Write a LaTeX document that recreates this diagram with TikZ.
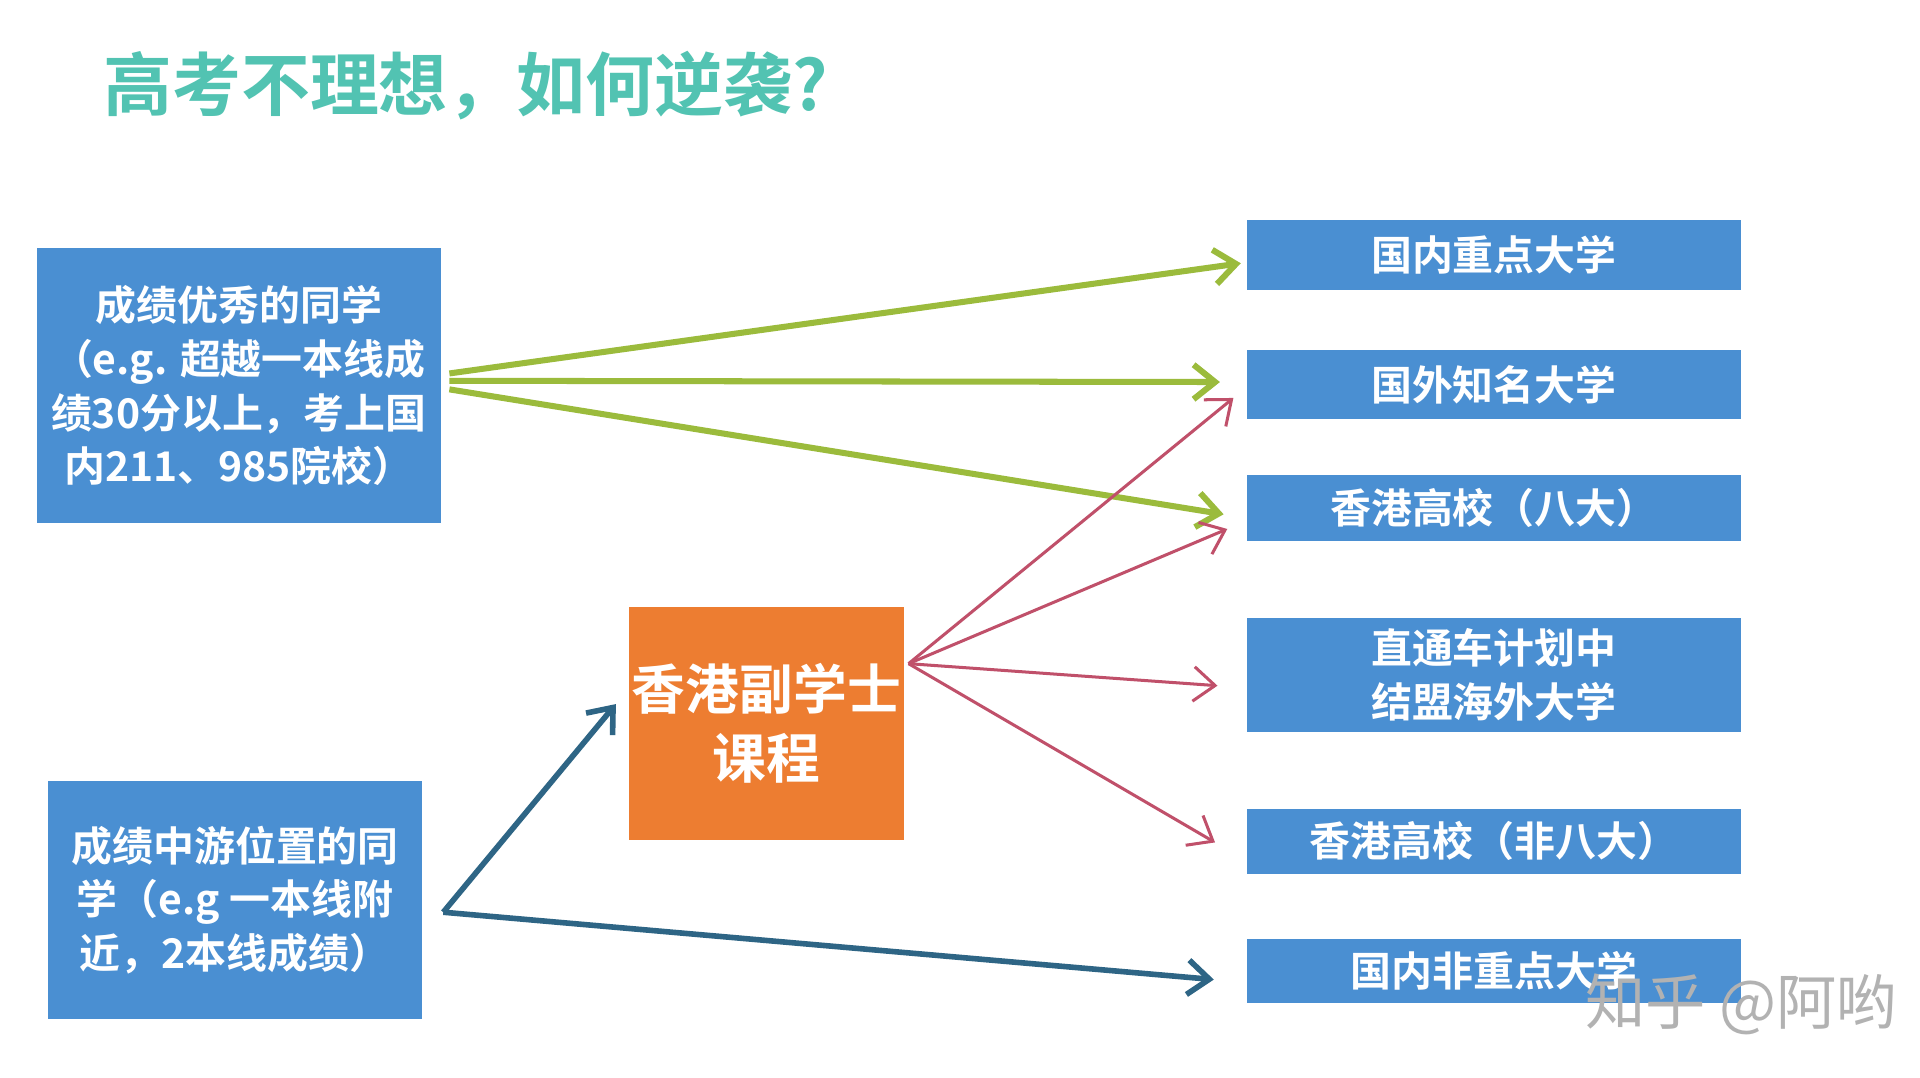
\documentclass[tikz,border=0pt]{standalone}
\usepackage{fontspec}
\setmainfont{Noto Sans CJK SC}
\newfontfamily\cjkb{Noto Sans CJK SC Bold}
\usetikzlibrary{arrows.meta}
\definecolor{boxblue}{HTML}{4A8FD2}
\definecolor{boxorange}{HTML}{ED7D31}
\definecolor{titlec}{HTML}{52C3B2}
\definecolor{greenl}{HTML}{9BBB3C}
\definecolor{redl}{HTML}{C0506A}
\definecolor{bluel}{HTML}{2E6585}
\tikzset{
 bbox/.style={fill=boxblue,text=white,font=\cjkb\fontsize{9.5}{12.5}\selectfont,align=center,inner sep=0pt},
 garr/.style={greenl,line width=1.4pt,-{Straight Barb[length=5pt,width=8pt]}},
 rarr/.style={redl,line width=0.7pt,-{Straight Barb[length=5pt,width=8pt]}},
 barr/.style={bluel,line width=1.3pt,-{Straight Barb[length=5pt,width=8pt]}}
}
\begin{document}
\begin{tikzpicture}[x=0.01cm,y=-0.01cm]
\useasboundingbox (0,0) rectangle (1568,880);
\fill[white] (0,0) rectangle (1568,880);
\node[anchor=west,text=titlec,font=\cjkb\fontsize{16}{20}\selectfont] (title) at (72,70) {高考不理想，如何逆袭?};
\node[bbox,minimum width=330*0.01cm,minimum height=225*0.01cm] (l1) at (195,315) {成绩优秀的同学\\（e.g. 超越一本线成\\绩30分以上，考上国\\内211、985院校）};
\node[bbox,minimum width=305*0.01cm,minimum height=195*0.01cm] (l2) at (192,735) {成绩中游位置的同\\学（e.g 一本线附\\近，2本线成绩）};
\node[bbox,fill=boxorange,font=\cjkb\fontsize{12.5}{16}\selectfont,minimum width=224*0.01cm,minimum height=190*0.01cm] (o) at (626,591) {香港副学士\\课程};
\node[bbox,minimum width=404*0.01cm,minimum height=57*0.01cm] (r1) at (1220,208) {国内重点大学};
\node[bbox,minimum width=404*0.01cm,minimum height=57*0.01cm] (r2) at (1220,314) {国外知名大学};
\node[bbox,minimum width=404*0.01cm,minimum height=54*0.01cm] (r3) at (1220,415) {香港高校（八大）};
\node[bbox,minimum width=404*0.01cm,minimum height=93*0.01cm] (r4) at (1220,551) {直通车计划中\\结盟海外大学};
\node[bbox,minimum width=404*0.01cm,minimum height=53*0.01cm] (r5) at (1220,687) {香港高校（非八大）};
\node[bbox,minimum width=404*0.01cm,minimum height=53*0.01cm] (r6) at (1220,793) {国内非重点大学};
\node[anchor=west,text=gray!60,font=\fontsize{14}{18}\selectfont] (wm) at (1282,820) {知乎 @阿哟};
\coordinate (g1) at (367,305); \coordinate (g2) at (367,311); \coordinate (g3) at (367,318);
\draw[garr] (g1) -- ([xshift=-0.04cm,yshift=-0.07cm]r1.west);
\draw[garr] (g2) -- ([xshift=-0.21cm,yshift=0.02cm]r2.west);
\draw[garr] (g3) -- ([xshift=-0.18cm,yshift=-0.05cm]r3.west);
\coordinate (os) at (742,542);
\draw[rarr] (os) -- ([xshift=-0.10cm,yshift=-0.11cm]r2.west);
\draw[rarr] (os) -- ([xshift=-0.15cm,yshift=-0.17cm]r3.west);
\draw[rarr] (os) -- ([xshift=-0.23cm,yshift=-0.09cm]r4.west);
\draw[rarr] (os) -- ([xshift=-0.25cm,yshift=-0.01cm]r5.west);
\coordinate (bs) at (362,745);
\draw[barr] (bs) -- (503,575);
\draw[barr] (bs) -- ([xshift=-0.26cm,yshift=-0.07cm]r6.west);
\end{tikzpicture}
\end{document}
